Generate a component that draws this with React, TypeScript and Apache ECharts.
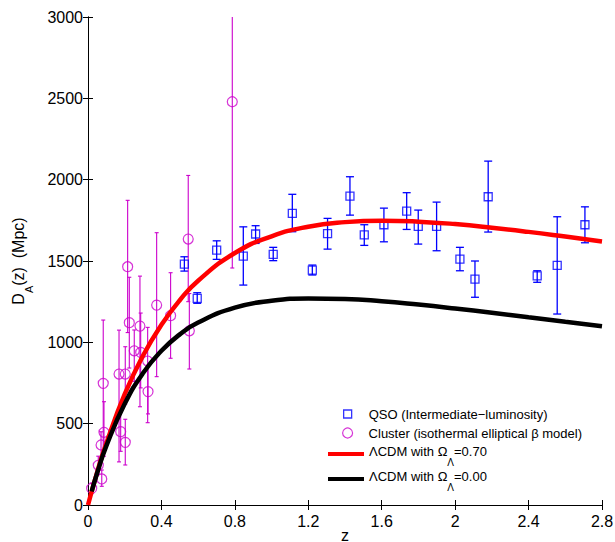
import React, { useEffect, useRef } from "react";
import * as echarts from "echarts";

// ---- QSO (intermediate-luminosity) angular size data ----
const qsoZ = [0.525, 0.595, 0.701, 0.846, 0.913, 1.009, 1.113, 1.222, 1.305, 1.427, 1.505, 1.612, 1.736, 1.799, 1.899, 2.026, 2.108, 2.18, 2.447, 2.556, 2.707];
const qsoDA = [1481, 1270, 1567, 1530, 1666, 1541, 1793, 1444, 1668, 1899, 1661, 1723, 1807, 1713, 1713, 1512, 1389, 1895, 1408, 1473, 1723];
const qsoLo = [1438, 1240, 1510, 1352, 1608, 1502, 1680, 1414, 1573, 1782, 1596, 1618, 1694, 1604, 1563, 1440, 1277, 1678, 1369, 1174, 1612];
const qsoHi = [1526, 1305, 1624, 1710, 1717, 1584, 1910, 1475, 1762, 2018, 1723, 1825, 1920, 1813, 1862, 1584, 1500, 2114, 1440, 1772, 1833];

// ---- Galaxy cluster data ----
const clusterZ = [0.02, 0.056, 0.071, 0.075, 0.083, 0.087, 0.169, 0.178, 0.203, 0.203, 0.216, 0.225, 0.252, 0.283, 0.287, 0.325, 0.327, 0.374, 0.45, 0.546, 0.552, 0.786];
const clusterDA = [102, 244, 369, 160, 748, 447, 805, 451, 805, 385, 1465, 1121, 948, 1100, 938, 885, 697, 1229, 1164, 1635, 1071, 2479];
const clusterLo = [70, 190, 290, 115, 338, 300, 265, 330, 620, 246, 1060, 842, 760, 604, 720, 506, 560, 789, 902, 1250, 836, 1457];
const clusterHi = [135, 300, 450, 215, 1137, 635, 1075, 600, 973, 527, 1873, 1400, 1076, 1407, 1180, 1092, 860, 1674, 1428, 2026, 1300, 3600];

// ---- model curves ----
const lcdmZ = [0, 0.05, 0.1, 0.2, 0.3, 0.4, 0.5, 0.6, 0.8, 1.0, 1.2, 1.4, 1.6, 1.8, 2.0, 2.2, 2.4, 2.6, 2.8];
const lcdm70 = [0, 202, 380, 681, 919, 1108, 1259, 1379, 1549, 1652, 1711, 1739, 1748, 1742, 1727, 1705, 1679, 1650, 1620];
const edsZ = [0.02, 0.05, 0.1, 0.2, 0.3, 0.4, 0.5, 0.6, 0.8, 1.0, 1.2, 1.4, 1.6, 1.8, 2.0, 2.2, 2.4, 2.6, 2.8];
const lcdm00 = [83, 197, 363, 622, 811, 948, 1049, 1122, 1213, 1256, 1270, 1267, 1253, 1232, 1208, 1182, 1154, 1127, 1099];

const X_MIN = 0, X_MAX = 2.8, X_STEP = 0.4;
const Y_MIN = 0, Y_MAX = 3000, Y_STEP = 500;

const NAME_QSO = "QSO (Intermediate\u2212luminosity)";
const NAME_CL = "Cluster (isothermal elliptical \u03b2 model)";
const NAME_R = "\u039bCDM with \u03a9\u039b=0.70";
const NAME_K = "\u039bCDM with \u03a9\u039b=0.00";

const FONT = "'Liberation Sans', Arial, Helvetica, sans-serif";
const BLUE = "#0000ff";
const MAG = "#cc00cc";

function errorBar(color: string, lineWidth: number, capHalf: number) {
  return (params: any, api: any) => {
    const x = api.value(0);
    const lo = api.value(1);
    const hi = api.value(2);
    const a = api.coord([x, lo]);
    const b = api.coord([x, hi]);
    const cs = params.coordSys;
    const top = cs.y;
    const bottom = cs.y + cs.height;
    const style = { stroke: color, lineWidth, fill: "none" };
    const y1 = Math.min(a[1], bottom);
    const y2 = Math.max(b[1], top);
    const children: any[] = [
      { type: "line", shape: { x1: a[0], y1, x2: a[0], y2 }, style },
    ];
    if (a[1] <= bottom) children.push({ type: "line", shape: { x1: a[0] - capHalf, y1: a[1], x2: a[0] + capHalf, y2: a[1] }, style });
    if (b[1] >= top) children.push({ type: "line", shape: { x1: b[0] - capHalf, y1: b[1], x2: b[0] + capHalf, y2: b[1] }, style });
    return { type: "group", children };
  };
}

const legendRich = {
  m: { fontSize: 13, lineHeight: 31, fontFamily: FONT, color: "#000" },
  s: { fontSize: 10, lineHeight: 10, fontFamily: FONT, color: "#000", verticalAlign: "bottom" },
};

export default function App() {
  const ref = useRef<HTMLDivElement>(null);
  useEffect(() => {
    if (!ref.current) return;
    const chart = echarts.init(ref.current, null, { renderer: "svg" });
    const axisCommon = {
      type: "value",
      axisLine: { show: true, lineStyle: { color: "#000", width: 1 } },
      axisTick: { show: true, inside: true, length: 5, lineStyle: { color: "#000" } },
      splitLine: { show: false },
    };
    const option: any = {
      animation: false,
      backgroundColor: "#fff",
      grid: { left: 88, top: 17, width: 514, height: 488, containLabel: false, outerBoundsMode: "none" },
      xAxis: [
        {
          ...axisCommon,
          min: X_MIN, max: X_MAX, interval: X_STEP,
          position: "bottom",
          axisLabel: { fontSize: 16, color: "#000", fontFamily: FONT, margin: 8 },
          name: "z",
          nameLocation: "middle",
          nameGap: 30,
          nameMoveOverlap: false,
          nameTextStyle: { fontSize: 16, color: "#000", fontFamily: FONT, verticalAlign: "middle" },
        },
        {
          ...axisCommon,
          min: X_MIN, max: X_MAX, interval: X_STEP,
          position: "top",
          axisLabel: { show: false },
        },
      ],
      yAxis: [
        {
          ...axisCommon,
          min: Y_MIN, max: Y_MAX, interval: Y_STEP,
          position: "left",
          axisLabel: { fontSize: 16, color: "#000", fontFamily: FONT, margin: 5, formatter: (v: number) => String(v) },
          name: "{m|D}{s|A}{m|(z)  (Mpc)}",
          nameLocation: "middle",
          nameRotate: 90,
          nameGap: 54,
          nameTextStyle: {
            color: "#000",
            rich: {
              m: { fontSize: 16, lineHeight: 32, fontFamily: FONT, color: "#000" },
              s: { fontSize: 11, lineHeight: 11, fontFamily: FONT, color: "#000", verticalAlign: "bottom" },
            },
          },
        },
        {
          ...axisCommon,
          min: Y_MIN, max: Y_MAX, interval: Y_STEP,
          position: "right",
          axisLabel: { show: false },
        },
      ],
      legend: [
        {
          data: [NAME_QSO],
          orient: "vertical",
          left: 343, top: 406,
          icon: "rect",
          itemWidth: 8, itemHeight: 8,
          itemGap: 0,
          padding: 0,
          selectedMode: false,
          itemStyle: { color: "rgba(0,0,0,0)", borderColor: BLUE, borderWidth: 1.3 },
          textStyle: { fontSize: 13, lineHeight: 16, fontFamily: FONT, color: "#000", padding: [0, 0, 0, 12] },
        },
        {
          data: [NAME_CL],
          orient: "vertical",
          left: 342, top: 425,
          icon: "circle",
          itemWidth: 10, itemHeight: 10,
          itemGap: 0,
          padding: 0,
          selectedMode: false,
          itemStyle: { color: "rgba(0,0,0,0)", borderColor: MAG, borderWidth: 1.2 },
          textStyle: { fontSize: 13, lineHeight: 16, fontFamily: FONT, color: "#000", padding: [0, 0, 0, 11] },
        },
        {
          data: [NAME_R],
          orient: "vertical",
          left: 328, top: 445,
          icon: "rect",
          itemWidth: 36, itemHeight: 4,
          padding: 0,
          selectedMode: false,
          itemStyle: { color: "#ff0000", borderWidth: 0 },
          formatter: () => "{m|\u039bCDM with \u03a9}{s|\u039b}{m|=0.70}",
          textStyle: { rich: legendRich, padding: [0, 0, 5, 0] },
        },
        {
          data: [NAME_K],
          orient: "vertical",
          left: 328, top: 470,
          icon: "rect",
          itemWidth: 36, itemHeight: 4,
          padding: 0,
          selectedMode: false,
          itemStyle: { color: "#000000", borderWidth: 0 },
          formatter: () => "{m|\u039bCDM with \u03a9}{s|\u039b}{m|=0.00}",
          textStyle: { rich: legendRich, padding: [0, 0, 5, 0] },
        },
      ],
      series: [
        {
          name: "QSO error",
          type: "custom",
          renderItem: errorBar(BLUE, 1.3, 4),
          encode: { x: 0, y: [1, 2] },
          data: qsoZ.map((z, i) => [z, qsoLo[i], qsoHi[i]]),
          z: 2,
        },
        {
          name: "Cluster error",
          type: "custom",
          renderItem: errorBar(MAG, 1.1, 2),
          encode: { x: 0, y: [1, 2] },
          data: clusterZ.map((z, i) => [z, clusterLo[i], clusterHi[i]]),
          z: 2,
        },
        {
          name: NAME_QSO,
          type: "scatter",
          symbol: "rect",
          symbolSize: 8,
          itemStyle: { color: "rgba(0,0,0,0)", borderColor: BLUE, borderWidth: 1.3 },
          data: qsoZ.map((z, i) => [z, qsoDA[i]]),
          z: 3,
        },
        {
          name: NAME_CL,
          type: "scatter",
          symbol: "circle",
          symbolSize: 10,
          itemStyle: { color: "rgba(0,0,0,0)", borderColor: MAG, borderWidth: 1.2 },
          data: clusterZ.map((z, i) => [z, clusterDA[i]]),
          z: 3,
        },
        {
          name: NAME_R,
          type: "line",
          smooth: true,
          symbol: "none",
          showSymbol: false,
          lineStyle: { color: "#ff0000", width: 4.5 },
          itemStyle: { color: "#ff0000" },
          data: lcdmZ.map((z, i) => [z, lcdm70[i]]),
          z: 4,
        },
        {
          name: NAME_K,
          type: "line",
          smooth: true,
          symbol: "none",
          showSymbol: false,
          lineStyle: { color: "#000000", width: 4.5 },
          itemStyle: { color: "#000000" },
          data: edsZ.map((z, i) => [z, lcdm00[i]]),
          z: 4,
        },
      ],
    };
    chart.setOption(option);
    return () => chart.dispose();
  }, []);
  return (
    <div
      ref={ref}
      style={{ position: "fixed", left: 0, top: 0, width: 615, height: 542, background: "#fff" }}
    />
  );
}
